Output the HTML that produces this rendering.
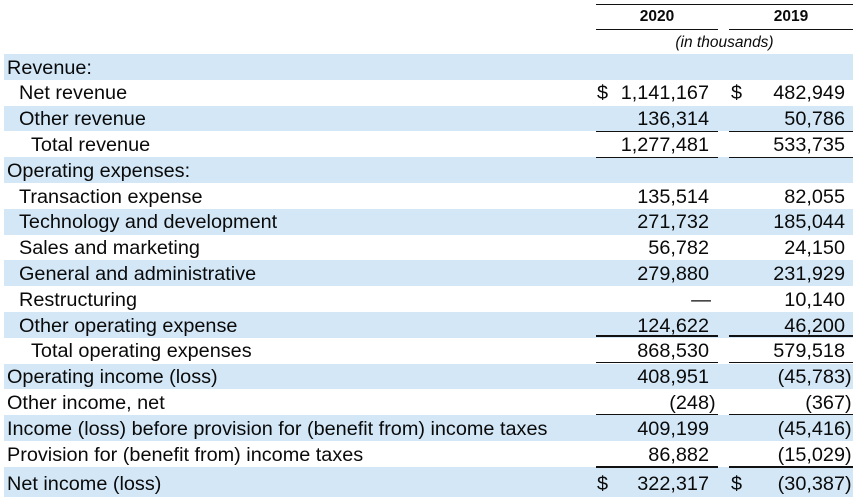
<!DOCTYPE html>
<html>
<head>
<meta charset="utf-8">
<style>
  html, body { margin:0; padding:0; background:#fff; }
  body { width:865px; height:487px; position:relative; overflow:hidden;
         font-family:"Liberation Sans", Arial, sans-serif; color:#0a0a0a; }
  .hdr { position:absolute; font-size:15.5px; text-align:center; }
  .row { position:absolute; left:4px; width:849px; height:25.8px; line-height:25.8px; font-size:19.85px; white-space:nowrap; overflow:visible; }
  .b { background:#d3e7f7; }
  .lbl { position:absolute; top:1.5px; }
  .l0 { left:3px; } .l1 { left:15px; } .l2 { left:27px; }
  .v { position:absolute; top:1.5px; text-align:right; }
  .v1 { right:144px; } /* right edge at 709 */
  .v2 { right:8px; }   /* right edge at 845 */
  .d1 { left:593px; } .d2 { left:727px; }
  .p { margin-right:-6.6px; }
  .last .lbl, .last .v { top:5.5px; }
  .line { position:absolute; height:1.8px; background:#111; }
</style>
</head>
<body>
  <div class="line" style="left:596px; width:257px; top:3.5px;"></div>
  <div class="hdr" style="left:596px; width:122px; top:8px; font-weight:bold;">2020</div>
  <div class="hdr" style="left:729px; width:124px; top:8px; font-weight:bold;">2019</div>
  <div class="line" style="left:596px; width:122px; top:28.5px;"></div>
  <div class="line" style="left:729px; width:124px; top:28.5px;"></div>
  <div class="hdr" style="left:596px; width:257px; top:33.5px; font-style:italic;">(in thousands)</div>

  <div class="row b" style="top:54px;"><span class="lbl l0">Revenue:</span></div>
  <div class="row" style="top:79.8px;"><span class="lbl l1">Net revenue</span><span class="v d1">$</span><span class="v v1">1,141,167</span><span class="v d2">$</span><span class="v v2">482,949</span></div>
  <div class="row b" style="top:105.6px;"><span class="lbl l1">Other revenue</span><span class="v v1">136,314</span><span class="v v2">50,786</span></div>
  <div class="row" style="top:131.4px;"><span class="lbl l2">Total revenue</span><span class="v v1">1,277,481</span><span class="v v2">533,735</span></div>
  <div class="row b" style="top:157.2px;"><span class="lbl l0">Operating expenses:</span></div>
  <div class="row" style="top:183px;"><span class="lbl l1">Transaction expense</span><span class="v v1">135,514</span><span class="v v2">82,055</span></div>
  <div class="row b" style="top:208.8px;"><span class="lbl l1">Technology and development</span><span class="v v1">271,732</span><span class="v v2">185,044</span></div>
  <div class="row" style="top:234.6px;"><span class="lbl l1">Sales and marketing</span><span class="v v1">56,782</span><span class="v v2">24,150</span></div>
  <div class="row b" style="top:260.4px;"><span class="lbl l1">General and administrative</span><span class="v v1">279,880</span><span class="v v2">231,929</span></div>
  <div class="row" style="top:286.2px;"><span class="lbl l1">Restructuring</span><span class="v v1" style="right:142px;">—</span><span class="v v2">10,140</span></div>
  <div class="row b" style="top:312px;"><span class="lbl l1">Other operating expense</span><span class="v v1">124,622</span><span class="v v2">46,200</span></div>
  <div class="row" style="top:337.8px;"><span class="lbl l2">Total operating expenses</span><span class="v v1">868,530</span><span class="v v2">579,518</span></div>
  <div class="row b" style="top:363.6px;"><span class="lbl l0">Operating income (loss)</span><span class="v v1">408,951</span><span class="v v2"><span class="p">(45,783)</span></span></div>
  <div class="row" style="top:389.4px;"><span class="lbl l0">Other income, net</span><span class="v v1"><span class="p">(248)</span></span><span class="v v2"><span class="p">(367)</span></span></div>
  <div class="row b" style="top:415.2px;"><span class="lbl l0">Income (loss) before provision for (benefit from) income taxes</span><span class="v v1">409,199</span><span class="v v2"><span class="p">(45,416)</span></span></div>
  <div class="row" style="top:441px;"><span class="lbl l0">Provision for (benefit from) income taxes</span><span class="v v1">86,882</span><span class="v v2"><span class="p">(15,029)</span></span></div>
  <div class="row b last" style="top:466.5px; height:30px;"><span class="lbl l0">Net income (loss)</span><span class="v d1">$</span><span class="v v1">322,317</span><span class="v d2">$</span><span class="v v2"><span class="p">(30,387)</span></span></div>

  <div class="line" style="left:596px; width:122px; top:130.5px;"></div>
  <div class="line" style="left:729px; width:124px; top:130.5px;"></div>
  <div class="line" style="left:596px; width:122px; top:156.5px;"></div>
  <div class="line" style="left:729px; width:124px; top:156.5px;"></div>
  <div class="line" style="left:596px; width:122px; top:335px;"></div>
  <div class="line" style="left:729px; width:124px; top:335px;"></div>
  <div class="line" style="left:596px; width:122px; top:361.5px;"></div>
  <div class="line" style="left:729px; width:124px; top:361.5px;"></div>
  <div class="line" style="left:596px; width:122px; top:413.5px;"></div>
  <div class="line" style="left:729px; width:124px; top:413.5px;"></div>
  <div class="line" style="left:596px; width:122px; top:466px;"></div>
  <div class="line" style="left:729px; width:124px; top:466px;"></div>
</body>
</html>
